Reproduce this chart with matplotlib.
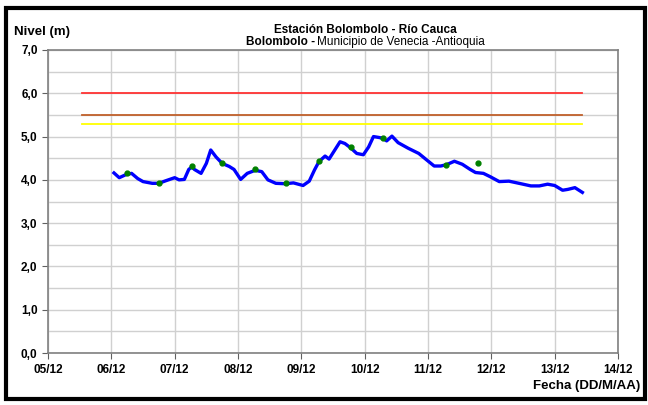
import matplotlib
matplotlib.use("Agg")
import matplotlib.pyplot as plt
import matplotlib.dates as mdates
import pandas as pd
from matplotlib.patches import Rectangle
from matplotlib.ticker import MultipleLocator

plt.rcParams['font.family'] = ['Liberation Sans', 'DejaVu Sans']

# nivel continuo (m)
fechas = ["2011-12-06 01:00", "2011-12-06 03:00", "2011-12-06 05:30", "2011-12-06 07:40",
          "2011-12-06 10:00", "2011-12-06 12:00", "2011-12-06 15:30", "2011-12-06 18:00",
          "2011-12-06 20:40", "2011-12-07 00:00", "2011-12-07 01:40", "2011-12-07 03:40",
          "2011-12-07 05:20", "2011-12-07 06:30", "2011-12-07 07:30", "2011-12-07 10:00",
          "2011-12-07 12:00", "2011-12-07 13:40", "2011-12-07 15:40", "2011-12-07 18:00",
          "2011-12-07 20:40", "2011-12-07 22:30", "2011-12-08 01:00", "2011-12-08 03:30",
          "2011-12-08 06:30", "2011-12-08 09:00", "2011-12-08 11:20", "2011-12-08 14:20",
          "2011-12-08 18:00", "2011-12-08 21:00", "2011-12-09 00:40", "2011-12-09 03:00",
          "2011-12-09 05:00", "2011-12-09 06:40", "2011-12-09 09:00", "2011-12-09 10:30",
          "2011-12-09 14:40", "2011-12-09 16:30", "2011-12-09 18:40", "2011-12-09 21:00",
          "2011-12-09 23:30", "2011-12-10 01:30", "2011-12-10 03:20", "2011-12-10 05:20",
          "2011-12-10 07:00", "2011-12-10 08:20", "2011-12-10 10:20", "2011-12-10 12:40",
          "2011-12-10 16:30", "2011-12-10 20:30", "2011-12-10 23:30", "2011-12-11 02:20",
          "2011-12-11 04:50", "2011-12-11 07:00", "2011-12-11 10:00", "2011-12-11 13:00",
          "2011-12-11 16:00", "2011-12-11 18:00", "2011-12-11 21:00", "2011-12-11 23:40",
          "2011-12-12 03:00", "2011-12-12 06:40", "2011-12-12 10:30", "2011-12-12 15:00",
          "2011-12-12 18:10", "2011-12-12 21:20", "2011-12-13 00:00", "2011-12-13 03:00",
          "2011-12-13 05:00", "2011-12-13 07:40", "2011-12-13 10:30"]
nivel = [4.16, 4.05, 4.12, 4.15, 4.03, 3.96, 3.92, 3.92, 3.98, 4.05, 4.00, 4.01,
         4.24, 4.30, 4.24, 4.15, 4.38, 4.69, 4.53, 4.38, 4.31, 4.24, 4.01, 4.15,
         4.22, 4.19, 4.00, 3.92, 3.91, 3.93, 3.87, 3.97, 4.23, 4.42, 4.55, 4.48,
         4.88, 4.84, 4.74, 4.61, 4.58, 4.76, 5.00, 4.98, 4.96, 4.90, 5.01, 4.86,
         4.73, 4.61, 4.46, 4.32, 4.32, 4.35, 4.43, 4.36, 4.24, 4.17, 4.15, 4.07,
         3.96, 3.97, 3.92, 3.86, 3.86, 3.90, 3.87, 3.76, 3.78, 3.82, 3.71]

# lecturas de mira
fechas_mira = ["2011-12-06 06:00", "2011-12-06 18:00", "2011-12-07 06:30", "2011-12-07 18:00",
               "2011-12-08 06:30", "2011-12-08 18:00", "2011-12-09 06:40", "2011-12-09 18:40",
               "2011-12-10 07:00", "2011-12-11 07:00", "2011-12-11 19:00"]
nivel_mira = [4.15, 3.93, 4.33, 4.39, 4.25, 3.92, 4.44, 4.75, 4.96, 4.35, 4.38]

# umbrales de alerta
umbral_ini = "2011-12-05 13:00"
umbral_fin = "2011-12-13 10:30"
umbrales = [6.0, 5.5, 5.3]
umbral_colores = ["#ff3333", "#c0602a", "#ffff00"]

x = pd.to_datetime(fechas)
xm = pd.to_datetime(fechas_mira)

fig = plt.figure(figsize=(6.48, 4.05), dpi=100)
ax = fig.add_axes([48/648, 52/405, 570/648, 303/405])

for u, c in zip(umbrales, umbral_colores):
    ax.plot(pd.to_datetime([umbral_ini, umbral_fin]), [u, u], color=c, lw=1.3, zorder=3)

ax.plot(x, nivel, color="#0000ff", lw=2.4, solid_joinstyle="round", zorder=4)
ax.plot(xm, nivel_mira, "o", color="#008000", ms=3.5, zorder=5)

ax.set_xlim(pd.Timestamp("2011-12-05"), pd.Timestamp("2011-12-14"))
ax.set_ylim(0, 7)
ax.xaxis.set_major_locator(mdates.DayLocator())
ax.xaxis.set_major_formatter(mdates.DateFormatter("%d/%m"))
ax.yaxis.set_major_locator(MultipleLocator(1))
ax.yaxis.set_minor_locator(MultipleLocator(0.5))
ax.yaxis.set_major_formatter(lambda v, p: ("%.1f" % v).replace(".", ","))
ax.grid(True, which="both", color="#d0d0d0", lw=1.0)
ax.set_axisbelow(True)
for s in ax.spines.values():
    s.set_color("#808080")
    s.set_linewidth(1.2)
ax.tick_params(which="major", length=4, color="#606060", labelsize=8.5)
ax.tick_params(which="minor", length=0)
for lab in ax.get_xticklabels() + ax.get_yticklabels():
    lab.set_fontweight("bold")
ax.tick_params(axis="x", pad=4)

fig.text(14/648, 1 - 32/405, "Nivel (m)", fontsize=9.5, fontweight="bold", va="center")
fig.text(365/648, 1 - 30/405, "Estación Bolombolo - Río Cauca", fontsize=8.5,
         fontweight="bold", ha="center", va="center")

# subtitulo: parte en negrita + parte normal, centrado como un bloque
t1 = fig.text(0, 1 - 42/405, "Bolombolo -", fontsize=8.5, fontweight="bold", va="center")
t2 = fig.text(0, 1 - 42/405, "Municipio de Venecia -Antioquia", fontsize=8.5, va="center")
r = fig.canvas.get_renderer()
w1 = t1.get_window_extent(r).width
w2 = t2.get_window_extent(r).width
x0 = 365 - (w1 + w2 + 2) / 2
t1.set_x(x0 / 648)
t2.set_x((x0 + w1 + 2) / 648)

fig.text(640/648, 1 - 386/405, "Fecha (DD/M/AA)", fontsize=9.5, fontweight="bold",
         ha="right", va="center")

fig.patches.append(Rectangle((6/648, 6/405), 639/648, 391/405, transform=fig.transFigure,
                             fill=False, edgecolor="black", lw=3))

fig.savefig("out.png", dpi=100)
